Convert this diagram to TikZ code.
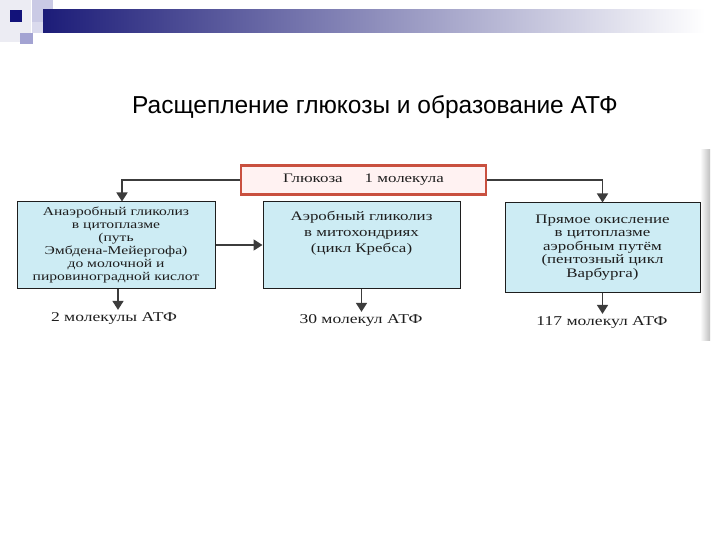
\documentclass[tikz,border=0pt]{standalone}
\usepackage{fontspec}
\setmainfont{Liberation Serif}
\newfontfamily\titlefont{Liberation Sans}
\newfontfamily\scanfont[FakeStretch=1.3]{Liberation Serif}
\usetikzlibrary{arrows.meta}
\definecolor{navybar}{HTML}{1C1C78}
\definecolor{midbar}{HTML}{A4A4BE}
\definecolor{palesq}{HTML}{ECECF3}
\definecolor{lavA}{HTML}{CACAE5}
\definecolor{lavB}{HTML}{A3A3D2}
\definecolor{darksq}{HTML}{12127A}
\definecolor{boxfill}{HTML}{CDECF4}
\definecolor{redb}{HTML}{C9503F}
\definecolor{arrgray}{HTML}{3C3C3C}
\definecolor{inkc}{HTML}{1E1E1E}
\tikzset{
  scanbox/.style={draw=inkc, line width=1pt, fill=boxfill, align=center,
    font=\scanfont\fontsize{12}{13}\selectfont, text=inkc, inner sep=0pt},
  glubox/.style={draw=redb, line width=2.6pt, fill=white!95!red, inner sep=0pt,
    font=\scanfont\fontsize{13}{14}\selectfont, text=inkc},
  result/.style={font=\scanfont\fontsize{13.5}{14}\selectfont, text=inkc, inner sep=2pt},
  arr/.style={draw=arrgray, line width=1.6pt, -{Triangle[width=11pt,length=9pt]}},
}
\begin{document}
\begin{tikzpicture}[x=1pt,y=-1pt]
\useasboundingbox (0,0) rectangle (720,540);
\fill[white] (0,0) rectangle (720,540);
% slide decoration
\fill[palesq] (0,0) rectangle (31,42);
\fill[lavA] (32,0) rectangle (53,22);
\fill[lavA!70] (32,22) rectangle (45,33);
\shade[left color=navybar, middle color=midbar, right color=white] (43,10) rectangle (705,33);
\fill[darksq] (10,10) rectangle (22,22);
\fill[lavB] (20,33) rectangle (33,44);
% title
\node[font=\titlefont\fontsize{24.5}{27}\selectfont, text=black] (title) at (375,107) {Расщепление глюкозы и образование АТФ};
% scan edge
\shade[left color=white, right color=black!25] (700,150) rectangle (710,340);
% boxes
\node[glubox, minimum width=245pt, minimum height=29pt] (glu) at (363.5,180) {Глюкоза\hspace{22pt}1 молекула};
\node[scanbox, minimum width=198pt, minimum height=86pt] (anaer) at (116,245)
  {Анаэробный гликолиз\\в цитоплазме\\(путь\\Эмбдена-Мейергофа)\\до молочной и\\пировиноградной кислот};
\node[scanbox, minimum width=197pt, minimum height=86pt, font=\scanfont\fontsize{13}{16}\selectfont] (aer) at (361.5,245)
  {Аэробный гликолиз\\в митохондриях\\(цикл Кребса)\\[10pt]\mbox{}};
\node[scanbox, minimum width=195pt, minimum height=89pt, font=\scanfont\fontsize{13}{13.5}\selectfont] (pent) at (602.5,247.5)
  {Прямое окисление\\в цитоплазме\\аэробным путём\\(пентозный цикл\\Варбурга)};
% results
\node[result] (l1) at (114,318) {2 молекулы АТФ};
\node[result] (l2) at (361,320) {30 молекул АТФ};
\node[result] (l3) at (602,322) {117 молекул АТФ};
% connectors
\draw[arr] (glu.west) -| ([xshift=6pt]anaer.north);
\draw[arr] (glu.east) -| (pent.north);
\draw[arr] (anaer.east) -- (aer.west);
\draw[arr] ([xshift=2pt]anaer.south) -- ([xshift=2pt]anaer.south |- l1.north);
\draw[arr] (aer.south) -- (aer.south |- l2.north);
\draw[arr] (pent.south) -- (pent.south |- l3.north);
\end{tikzpicture}
\end{document}
